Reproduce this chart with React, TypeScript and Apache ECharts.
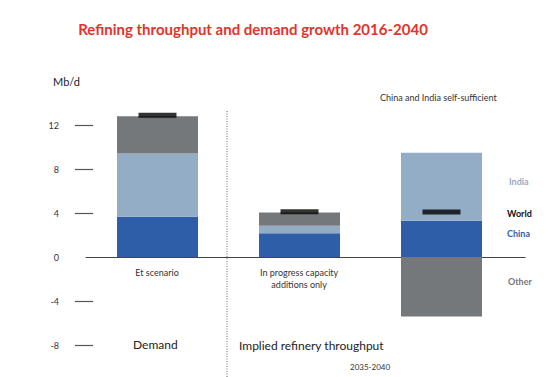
import React, { useEffect, useRef } from "react";
import * as echarts from "echarts";

const categories = ["Et scenario", "In progress capacity\nadditions only", ""];
const labelPositions = [1, 2];
const chinaValues = [3.65, 2.15, 3.3];
const indiaValues = [5.75, 0.7, 6.18];
const otherValues = [3.4, 1.2, -5.4];
const worldValues = [12.88, 4.12, 4.1];
const yLabelValues = [-8, -4, 0, 4, 8, 12];
const yTickValues = [-8, -4, 4, 8, 12];

const FONT = "Lato, 'Open Sans', sans-serif";
const C_CHINA = "#2f5ea8";
const C_INDIA = "#93adc6";
const C_OTHER = "#75787b";

export default function App() {
  const ref = useRef<HTMLDivElement>(null);
  useEffect(() => {
    if (!ref.current) return;
    const chart = echarts.init(ref.current, undefined, { renderer: "svg" });
    chart.setOption({
      animation: false,
      backgroundColor: "#ffffff",
      textStyle: { fontFamily: FONT },
      grid: [
        { left: 86.5, right: 37.5, top: 103, bottom: 32, containLabel: false },
        { left: 86, right: 25, top: 103, bottom: 120, containLabel: false },
      ],
      xAxis: [
        {
          type: "category",
          gridIndex: 0,
          data: categories,
          axisLine: { show: false },
          axisTick: { show: false },
          axisLabel: { show: false },
          splitLine: { show: false },
        },
        {
          type: "value",
          gridIndex: 1,
          min: 0.5,
          max: 3.59,
          splitLine: { show: false },
          axisTick: { show: false },
          axisLine: { show: true, onZero: false, lineStyle: { color: "#444", width: 1 } },
          axisLabel: {
            customValues: labelPositions,
            formatter: (v: number) => categories[Math.round(v) - 1] ?? "",
            color: "#333",
            fontSize: 9,
            lineHeight: 12,
            margin: 9,
            fontFamily: FONT,
          },
        },
      ],
      yAxis: [
        {
          type: "value",
          gridIndex: 0,
          min: -8,
          max: 14,
          offset: -6.5,
          splitLine: { show: false },
          axisLine: { show: false },
          axisTick: {
            show: true,
            customValues: yTickValues,
            length: 18,
            lineStyle: { color: "#555", width: 1.2 },
          },
          axisLabel: {
            customValues: yLabelValues,
            color: "#333",
            fontSize: 9,
            margin: 34,
            padding: [0, 0, 4, 0],
            fontFamily: FONT,
          },
        },
        {
          type: "value",
          gridIndex: 1,
          min: 0,
          max: 14,
          show: false,
          splitLine: { show: false },
        },
      ],
      series: [
        {
          name: "China",
          type: "bar",
          stack: "total",
          barWidth: 81,
          data: chinaValues,
          itemStyle: { color: C_CHINA },
        },
        {
          name: "India",
          type: "bar",
          stack: "total",
          barWidth: 81,
          data: indiaValues,
          itemStyle: { color: C_INDIA },
        },
        {
          name: "Other",
          type: "bar",
          stack: "total",
          barWidth: 81,
          data: otherValues,
          itemStyle: { color: C_OTHER },
        },
        {
          name: "World",
          type: "scatter",
          symbol: "rect",
          symbolSize: [38, 5],
          z: 5,
          data: worldValues,
          itemStyle: { color: "#000" },
        },
      ],
      graphic: [
        {
          type: "text",
          x: 253,
          y: 29,
          style: {
            text: "Refining throughput and demand growth 2016-2040",
            fill: "#e2342b",
            font: `bold 15px ${FONT}`,
            align: "center",
            verticalAlign: "middle",
          },
        },
        {
          type: "text",
          x: 53,
          y: 81,
          style: { text: "Mb/d", fill: "#222", font: `11px ${FONT}`, verticalAlign: "middle" },
        },
        {
          type: "text",
          x: 380,
          y: 97,
          style: {
            text: "China and India self-sufficient",
            fill: "#333",
            font: `9px ${FONT}`,
            verticalAlign: "middle",
          },
        },
        {
          type: "text",
          x: 509,
          y: 181,
          style: { text: "India", fill: C_INDIA, font: `bold 9px ${FONT}`, verticalAlign: "middle" },
        },
        {
          type: "text",
          x: 507,
          y: 213,
          style: { text: "World", fill: "#111", font: `bold 9px ${FONT}`, verticalAlign: "middle" },
        },
        {
          type: "text",
          x: 507,
          y: 233,
          style: { text: "China", fill: C_CHINA, font: `bold 9px ${FONT}`, verticalAlign: "middle" },
        },
        {
          type: "text",
          x: 508,
          y: 281,
          style: { text: "Other", fill: C_OTHER, font: `bold 9px ${FONT}`, verticalAlign: "middle" },
        },
        {
          type: "text",
          x: 133,
          y: 344,
          style: { text: "Demand", fill: "#222", font: `12px ${FONT}`, verticalAlign: "middle" },
        },
        {
          type: "text",
          x: 239,
          y: 345,
          style: {
            text: "Implied refinery throughput",
            fill: "#222",
            font: `12px ${FONT}`,
            verticalAlign: "middle",
          },
        },
        {
          type: "text",
          x: 350,
          y: 367,
          style: { text: "2035-2040", fill: "#333", font: `8px ${FONT}`, verticalAlign: "middle" },
        },
        {
          type: "line",
          shape: { x1: 227, y1: 111, x2: 227, y2: 377 },
          style: { stroke: "#999", lineWidth: 1.5, lineDash: [1, 1.5] },
          z: 10,
        },
      ],
    });
    return () => chart.dispose();
  }, []);
  return (
    <div
      ref={ref}
      style={{ position: "fixed", left: 0, top: 0, width: 550, height: 377, background: "#fff" }}
    />
  );
}
